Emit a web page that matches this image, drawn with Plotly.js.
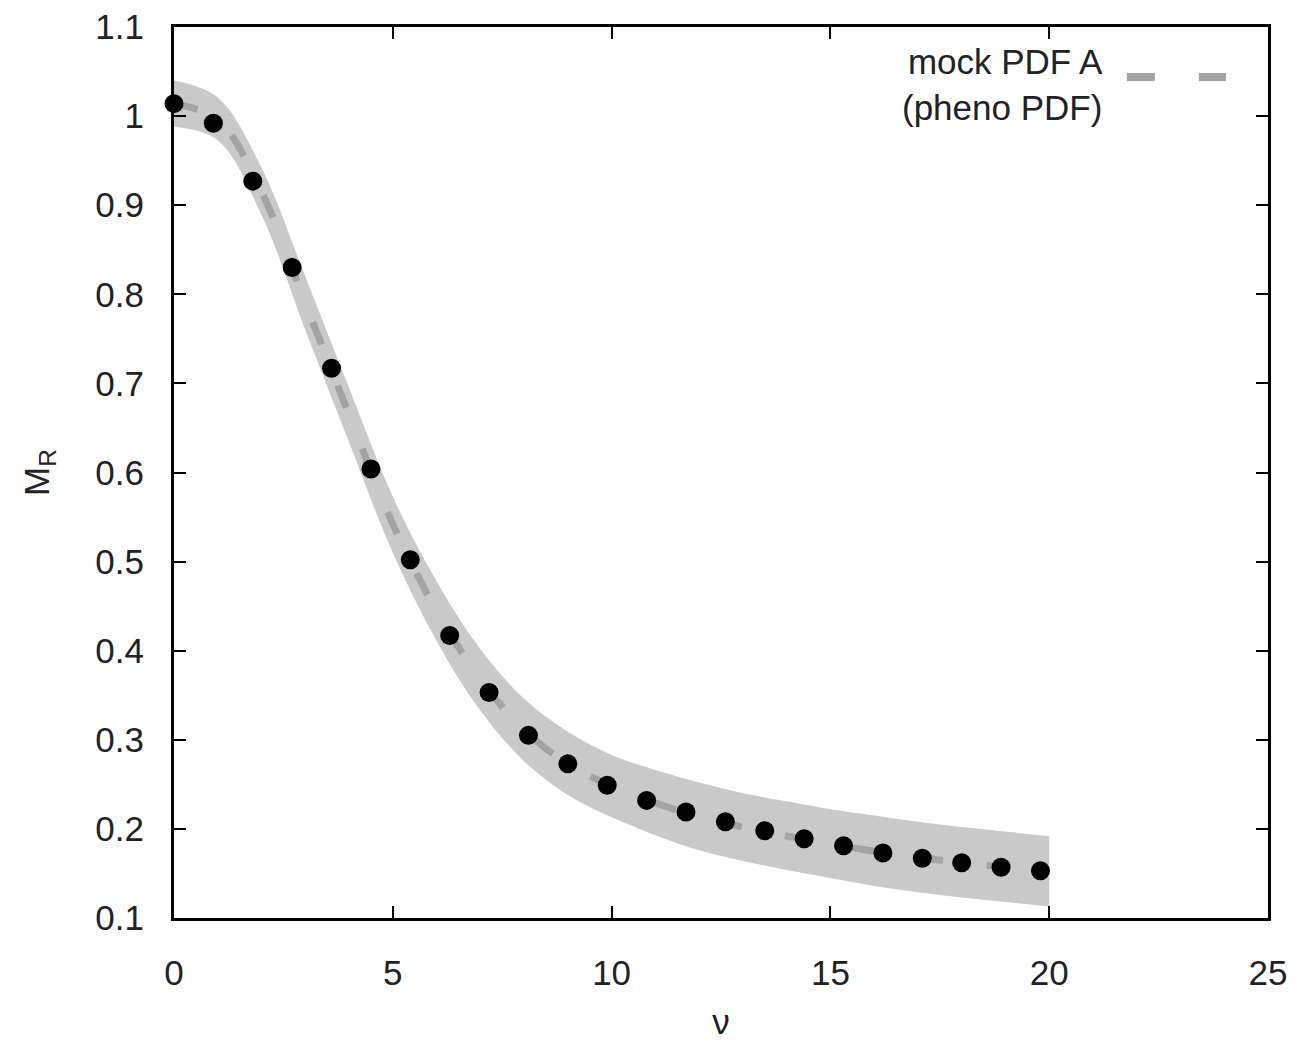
<!DOCTYPE html>
<html>
<head>
<meta charset="utf-8">
<script src="https://cdn.plot.ly/plotly-3.0.1.min.js"></script>
<style>html,body{margin:0;padding:0;background:#fff;}#chart{width:1297px;height:1041px;}</style>
</head>
<body>
<div id="chart"></div>
<script>
// Data points (black circles)
const nuPoints = [0, 0.9, 1.8, 2.7, 3.6, 4.5, 5.4, 6.3, 7.2, 8.1, 9.0, 9.9, 10.8, 11.7, 12.6, 13.5, 14.4, 15.3, 16.2, 17.1, 18.0, 18.9, 19.8];
const mrPoints = [1.014, 0.992, 0.927, 0.830, 0.717, 0.604, 0.502, 0.417, 0.353, 0.305, 0.273, 0.249, 0.232, 0.219, 0.208, 0.198, 0.189, 0.181, 0.173, 0.167, 0.162, 0.157, 0.153];

// Band (pheno PDF) and its central curve
const nuBand = [0, 1, 2, 3, 4, 5, 6, 7, 8, 9, 10, 11, 12, 13, 14, 15, 16, 17, 18, 19, 20];
const bandCentral = [1.014, 0.996, 0.915, 0.790, 0.665, 0.542, 0.445, 0.368, 0.311, 0.273, 0.248, 0.229, 0.214, 0.202, 0.192, 0.183, 0.175, 0.168, 0.162, 0.157, 0.152];
const bandUpper = [1.040, 1.021, 0.942, 0.820, 0.695, 0.573, 0.478, 0.402, 0.346, 0.309, 0.283, 0.266, 0.252, 0.240, 0.231, 0.222, 0.215, 0.208, 0.202, 0.197, 0.192];
const bandLower = [0.988, 0.973, 0.889, 0.760, 0.634, 0.510, 0.411, 0.333, 0.276, 0.238, 0.213, 0.193, 0.176, 0.164, 0.154, 0.145, 0.136, 0.129, 0.123, 0.118, 0.113];

const xTicks = [0, 5, 10, 15, 20, 25];
const yTicks = [0.1, 0.2, 0.3, 0.4, 0.5, 0.6, 0.7, 0.8, 0.9, 1, 1.1];
const legendText = "mock PDF A<br>(pheno PDF)";

const FONT = "Liberation Sans, Arial, sans-serif";
const FS = 35;

const traces = [
  {x: nuBand, y: bandLower, mode: 'lines', line: {width: 0, color: 'rgba(0,0,0,0)', shape: 'spline'}, showlegend: false, hoverinfo: 'skip'},
  {x: nuBand, y: bandUpper, mode: 'lines', fill: 'tonexty', fillcolor: '#c9c9c9', line: {width: 0, color: 'rgba(0,0,0,0)', shape: 'spline'}, showlegend: false, hoverinfo: 'skip'},
  {x: nuBand, y: bandCentral, mode: 'lines', line: {color: '#a3a3a3', width: 7, dash: '24px,44px', shape: 'spline'}, showlegend: false},
  {x: nuPoints, y: mrPoints, mode: 'markers', marker: {color: '#000', size: 19}, cliponaxis: false, showlegend: false}
];

const axisCommon = {
  showgrid: false, zeroline: false, showline: true, linecolor: '#000', linewidth: 3,
  mirror: 'ticks', ticks: 'inside', ticklen: 12, tickwidth: 2, tickcolor: '#000',
  tickfont: {family: FONT, size: FS, color: '#222'}
};

const layout = {
  width: 1297, height: 1041,
  margin: {l: 174, r: 29, t: 27, b: 123},
  paper_bgcolor: '#fff', plot_bgcolor: '#fff',
  showlegend: false,
  xaxis: Object.assign({}, axisCommon, {
    range: [0, 25], tickmode: 'array', tickvals: xTicks, ticktext: xTicks.map(String),
    ticklabelstandoff: 22,
    title: {text: 'ν', font: {family: FONT, size: FS, color: '#222'}, standoff: 38}
  }),
  yaxis: Object.assign({}, axisCommon, {
    range: [0.1, 1.1], tickmode: 'array', tickvals: yTicks, ticktext: yTicks.map(String),
    ticklabelstandoff: 20,
    title: {text: 'M<sub>R</sub>', font: {family: FONT, size: FS, color: '#222'}, standoff: 36}
  }),
  annotations: [{
    xref: 'paper', yref: 'paper', x: 0.851, y: 0.936, xanchor: 'right', yanchor: 'middle',
    text: legendText, align: 'right', showarrow: false,
    font: {family: FONT, size: FS, color: '#222'}
  }],
  shapes: [{
    type: 'line', xref: 'paper', yref: 'paper', x0: 0.871, x1: 0.9616, y0: 0.944, y1: 0.944,
    line: {color: '#a3a3a3', width: 8, dash: '28px,44px'}
  }]
};

Plotly.newPlot('chart', traces, layout, {displayModeBar: false, staticPlot: true});
</script>
</body>
</html>
